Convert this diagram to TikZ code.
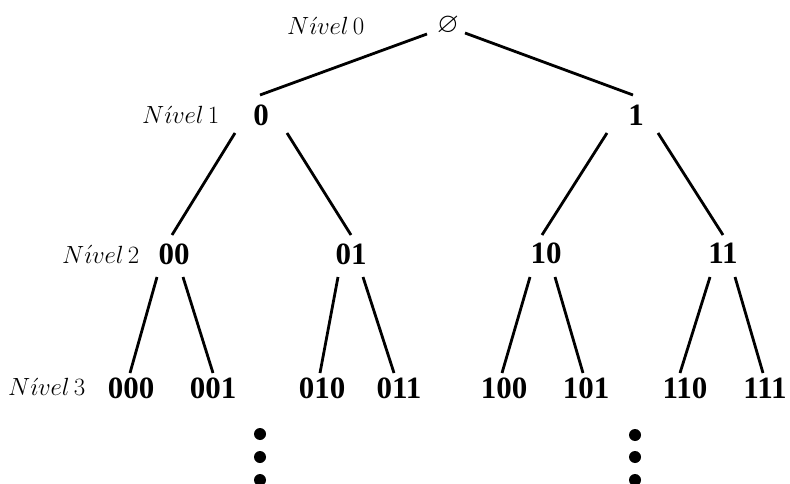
\documentclass[tikz,border=0pt]{standalone}
\usepackage{amssymb}
\usepackage{fontspec}
\setmainfont{Liberation Serif}
\begin{document}
\begin{tikzpicture}[x=1pt,y=-1pt,
  bit/.style={font=\fontsize{31}{36}\selectfont\bfseries, inner sep=0pt},
  lvl/.style={font=\fontsize{24}{28}\selectfont, inner sep=0pt, anchor=base west},
  edge/.style={line width=2.8pt},
  dot/.style={circle, fill=black, inner sep=0pt, minimum size=12pt}]
\useasboundingbox (0,0) rectangle (790,484);
\clip (0,0) rectangle (790,484);
% level labels
\node[lvl] (l0) at (287,35) {$N\acute{\imath}vel\,0$};
\node[lvl] (l1) at (142,124) {$N\acute{\imath}vel\,1$};
\node[lvl] (l2) at (62,263) {$N\acute{\imath}vel\,2$};
\node[lvl] (l3) at (8,395) {$N\acute{\imath}vel\,3$};
% nodes
\node[inner sep=0pt, font=\fontsize{28}{32}\selectfont] (r) at (448,26) {$\varnothing$};
\node[bit] (n0) at (261,115) {0};
\node[bit] (n1) at (636,115) {1};
\node[bit] (n00) at (174,254) {00};
\node[bit] (n01) at (351,254) {01};
\node[bit] (n10) at (546,253) {10};
\node[bit] (n11) at (723,253) {11};
\node[bit] (n000) at (131,388) {000};
\node[bit] (n001) at (213,388) {001};
\node[bit] (n010) at (322,388) {010};
\node[bit] (n011) at (399,388) {011};
\node[bit] (n100) at (504,388) {100};
\node[bit] (n101) at (586,388) {101};
\node[bit] (n110) at (685,388) {110};
\node[bit] (n111) at (765,388) {111};
% dots
\node[dot] (a1) at (260,434) {};
\node[dot] (a2) at (260,457) {};
\node[dot] (a3) at (260,480) {};
\node[dot] (b1) at (635,435) {};
\node[dot] (b2) at (635,457) {};
\node[dot] (b3) at (635,480) {};
% edges
\draw[edge] ([shift={(-21,8)}]r.center) -- ([shift={(-1,-20)}]n0.center);
\draw[edge] ([shift={(17,7)}]r.center) -- ([shift={(-3,-20)}]n1.center);
\draw[edge] ([shift={(-26,18)}]n0.center) -- ([shift={(-2,-19)}]n00.center);
\draw[edge] ([shift={(26,18)}]n0.center) -- ([shift={(0,-19)}]n01.center);
\draw[edge] ([shift={(-29,18)}]n1.center) -- ([shift={(-4,-18)}]n10.center);
\draw[edge] ([shift={(22,18)}]n1.center) -- ([shift={(0,-18)}]n11.center);
\draw[edge] ([shift={(-17,23)}]n00.center) -- ([shift={(-1,-15)}]n000.center);
\draw[edge] ([shift={(9,23)}]n00.center) -- ([shift={(0,-15)}]n001.center);
\draw[edge] ([shift={(-13,23)}]n01.center) -- ([shift={(-2,-15)}]n010.center);
\draw[edge] ([shift={(12,23)}]n01.center) -- ([shift={(-5,-15)}]n011.center);
\draw[edge] ([shift={(-16,24)}]n10.center) -- ([shift={(-2,-15)}]n100.center);
\draw[edge] ([shift={(9,24)}]n10.center) -- ([shift={(-3,-15)}]n101.center);
\draw[edge] ([shift={(-13,24)}]n11.center) -- ([shift={(-5,-15)}]n110.center);
\draw[edge] ([shift={(12,24)}]n11.center) -- ([shift={(-2,-15)}]n111.center);
\end{tikzpicture}
\end{document}
